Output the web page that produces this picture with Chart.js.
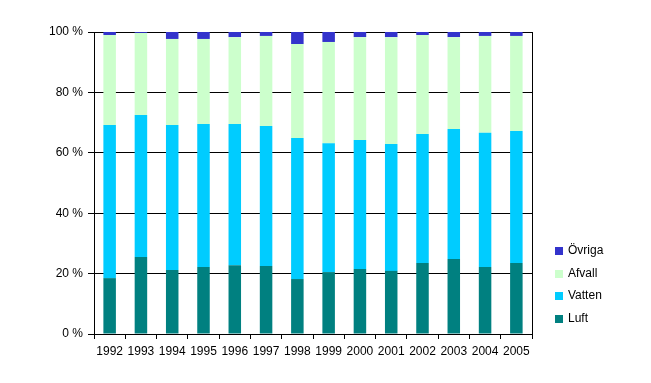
<!DOCTYPE html>
<html>
<head>
<meta charset="utf-8">
<script src="https://cdn.jsdelivr.net/npm/chart.js@4/dist/chart.umd.min.js"></script>
<style>
  html, body { margin: 0; padding: 0; background: #fff; }
  canvas { display: block; }
</style>
</head>
<body>
<canvas id="chart" width="651" height="383"></canvas>
<script>
// years on the x axis
const years = ["1992", "1993", "1994", "1995", "1996", "1997", "1998",
               "1999", "2000", "2001", "2002", "2003", "2004", "2005"];

// shares in percent
const luft   = [18.5, 25.5, 21.2, 22.2, 22.8, 22.5, 18.2, 20.5, 21.5, 20.9, 23.5, 24.8, 22.2, 23.5];
const vatten = [50.7, 47.0, 48.0, 47.3, 46.7, 46.4, 46.7, 42.7, 42.7, 42.0, 42.7, 43.1, 44.4, 43.7];
const afvall = [29.8, 27.2, 28.5, 28.2, 28.8, 29.8, 31.1, 33.5, 34.1, 35.4, 32.8, 30.4, 32.1, 31.5];
const ovriga = [1.0, 0.3, 2.3, 2.3, 1.7, 1.3, 4.0, 3.3, 1.7, 1.7, 1.0, 1.7, 1.3, 1.3];

// y tick values
const yTicks = [0, 20, 40, 60, 80, 100];

const FONT = "'Liberation Sans', Arial, sans-serif";

// draws the legend on the right and the right border of the plot area
const legendPlugin = {
    id: "sideLegend",
    afterDraw(chart) {
        const ctx = chart.ctx;
        const area = chart.chartArea;
        ctx.save();
        // right border of plot
        ctx.strokeStyle = "#000";
        ctx.lineWidth = 1;
        ctx.beginPath();
        ctx.moveTo(Math.round(area.right) + 0.5, area.top);
        ctx.lineTo(Math.round(area.right) + 0.5, area.bottom);
        ctx.stroke();

        // legend, last series on top
        const sets = chart.data.datasets.slice().reverse();
        ctx.font = "12px " + FONT;
        ctx.textBaseline = "middle";
        ctx.textAlign = "left";
        sets.forEach((ds, i) => {
            let y = 251 + i * 22.5;
            ctx.fillStyle = ds.backgroundColor;
            ctx.fillRect(555, Math.round(y - 4), 8, 8);
            ctx.fillStyle = "#000";
            ctx.fillText(ds.label, 568, y);
        });
        ctx.restore();
    }
};

let ctx = document.getElementById("chart").getContext("2d");

new Chart(ctx, {
    type: "bar",
    data: {
        labels: years,
        datasets: [
            { label: "Luft",   data: luft,   backgroundColor: "#008080" },
            { label: "Vatten", data: vatten, backgroundColor: "#00CCFF" },
            { label: "Afvall", data: afvall, backgroundColor: "#CCFFCC" },
            { label: "Övriga", data: ovriga, backgroundColor: "#3333CC" },
        ],
    },
    options: {
        responsive: false,
        animation: false,
        devicePixelRatio: 1,
        layout: { padding: { left: 0, right: 119, top: 32, bottom: 0 } },
        datasets: {
            bar: { barPercentage: 0.4, categoryPercentage: 1.0, borderWidth: 0 }
        },
        plugins: {
            legend: { display: false },
            tooltip: { enabled: false },
        },
        scales: {
            x: {
                stacked: true,
                offset: true,
                grid: {
                    offset: true,
                    drawOnChartArea: false,
                    drawTicks: true,
                    tickLength: 5,
                    color: "#000",
                },
                border: { color: "#000", width: 1 },
                ticks: {
                    color: "#000",
                    font: { family: FONT, size: 12 },
                    padding: 5,
                    maxRotation: 0,
                    autoSkip: false,
                },
                afterFit: (scale) => { scale.height = 49; },
            },
            y: {
                stacked: true,
                min: 0,
                max: 100,
                afterBuildTicks: (scale) => {
                    scale.ticks = yTicks.map(v => ({ value: v }));
                },
                grid: {
                    color: "#000",
                    lineWidth: 1,
                    drawTicks: true,
                    tickLength: 6,
                },
                border: { color: "#000", width: 1 },
                ticks: {
                    color: "#000",
                    font: { family: FONT, size: 12 },
                    padding: 5,
                    callback: (v) => v + " %",
                },
                afterFit: (scale) => { scale.width = 94; },
            },
        },
    },
    plugins: [legendPlugin],
});
</script>
</body>
</html>
